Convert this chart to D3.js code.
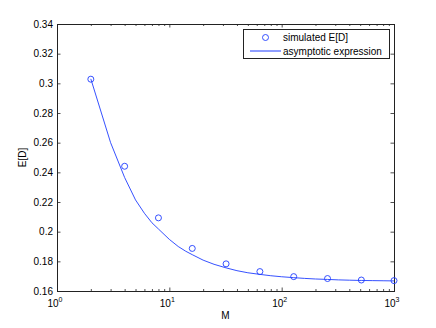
<!DOCTYPE html>
<html>
<head>
<meta charset="utf-8">
<script src="https://cdn.jsdelivr.net/npm/d3@7"></script>
<style>
body { margin: 0; background: #fff; }
text { font-family: "Liberation Sans", Arial, sans-serif; font-size: 10px; fill: #000; }
</style>
</head>
<body>
<div id="chart"></div>
<script>
var w = 436;
var h = 328;

// simulated points
var simM = [2, 4, 8, 16, 32, 64, 128, 256, 512, 1000];
var simED = [0.3028, 0.2441, 0.2093, 0.1887, 0.1783, 0.1731, 0.1697, 0.1684, 0.1674, 0.1670];

// asymptotic expression
var asymM = [2, 3, 4, 5, 6, 7, 8, 10, 12, 14, 16, 20, 25, 32, 40, 50, 64, 80, 100, 128, 160, 200, 256, 320, 400, 512, 640, 800, 1000];
var asymED = [0.303, 0.2600, 0.2365, 0.2214, 0.2124, 0.2060, 0.2018, 0.1948, 0.1900, 0.1868, 0.1845, 0.1808,
    0.1780, 0.1756, 0.1737, 0.1723, 0.1712, 0.1703, 0.1696, 0.1690, 0.1685, 0.1681, 0.1678, 0.1675,
    0.1673, 0.1671, 0.1670, 0.1669, 0.1668];

var yTicks = [0.16, 0.18, 0.2, 0.22, 0.24, 0.26, 0.28, 0.3, 0.32, 0.34];
var xMajor = [1, 10, 100, 1000];
var xExp = ["0", "1", "2", "3"];

// plot box (note: "top" is a reserved window global)
var pL = 57, pR = 394, pT = 24, pB = 291;

var svg = d3.select("#chart")
    .append("svg")
    .attr("width", w)
    .attr("height", h);

var x = d3.scaleLog().domain([1, 1000]).range([pL, pR]);
var y = d3.scaleLinear().domain([0.16, 0.34]).range([pB, pT]);

var xMinor = [];
[1, 10, 100].forEach(function (d) {
    for (var k = 2; k <= 9; k++) xMinor.push(d * k);
});

var fmtY = function (d) { return String(+d.toFixed(2)); };

// left axis with labels, ticks inward
var gl = svg.append("g")
    .attr("transform", "translate(" + pL + ",0)")
    .call(d3.axisLeft(y).tickValues(yTicks).tickSize(-3.5).tickPadding(4).tickFormat(fmtY));
// right axis, ticks only
var gr = svg.append("g")
    .attr("transform", "translate(" + pR + ",0)")
    .call(d3.axisRight(y).tickValues(yTicks).tickSize(-3.5).tickFormat(""));

// bottom and top axes: major and minor ticks
var gb = svg.append("g")
    .attr("transform", "translate(0," + pB + ")")
    .call(d3.axisBottom(x).tickValues(xMajor).tickSize(-3.5).tickFormat(""));
var gbm = svg.append("g")
    .attr("transform", "translate(0," + pB + ")")
    .call(d3.axisBottom(x).tickValues(xMinor).tickSize(-2).tickFormat(""));
var gt = svg.append("g")
    .attr("transform", "translate(0," + pT + ")")
    .call(d3.axisTop(x).tickValues(xMajor).tickSize(-3.5).tickFormat(""));
var gtm = svg.append("g")
    .attr("transform", "translate(0," + pT + ")")
    .call(d3.axisTop(x).tickValues(xMinor).tickSize(-2).tickFormat(""));

[gl, gr, gb, gbm, gt, gtm].forEach(function (g) {
    g.select(".domain").remove();
    g.selectAll("line").attr("stroke", "#222").attr("stroke-width", 0.8);
    g.selectAll("text").attr("font-family", null).attr("font-size", null).attr("fill", "#000");
});

// box
svg.append("rect")
    .attr("x", pL + 0.5)
    .attr("y", pT + 0.5)
    .attr("width", pR - pL)
    .attr("height", pB - pT)
    .attr("fill", "none")
    .attr("stroke", "#222")
    .attr("stroke-width", 1);

// x tick labels 10^n
var xl = svg.selectAll(".xlab")
    .data(xMajor)
    .enter()
    .append("text")
    .attr("class", "xlab")
    .attr("x", function (d) { return x(d) - 2; })
    .attr("y", pB + 16)
    .attr("text-anchor", "middle");
xl.append("tspan").text("10");
xl.append("tspan")
    .attr("dy", -5)
    .style("font-size", "7px")
    .text(function (d, i) { return xExp[i]; });

// axis titles
svg.append("text")
    .attr("x", (pL + pR) / 2)
    .attr("y", pB + 28)
    .attr("text-anchor", "middle")
    .text("M");
svg.append("text")
    .attr("transform", "translate(26," + (pT + pB) / 2 + ") rotate(-90)")
    .attr("text-anchor", "middle")
    .text("E[D]");

var blue = "#1f3dff";

// asymptotic line
var line = d3.line()
    .x(function (d, i) { return x(asymM[i]); })
    .y(function (d) { return y(d); });
svg.append("path")
    .attr("d", line(asymED))
    .attr("fill", "none")
    .attr("stroke", blue)
    .attr("stroke-width", 0.9);

// simulated circles
svg.selectAll(".pt")
    .data(simED)
    .enter()
    .append("circle")
    .attr("class", "pt")
    .attr("cx", function (d, i) { return x(simM[i]); })
    .attr("cy", function (d) { return y(d); })
    .attr("r", 3)
    .attr("fill", "none")
    .attr("stroke", blue)
    .attr("stroke-width", 0.9);

// legend
var lg = svg.append("g");
lg.append("rect")
    .attr("x", 243.5)
    .attr("y", 29.5)
    .attr("width", 146)
    .attr("height", 29)
    .attr("fill", "#fff")
    .attr("stroke", "#222")
    .attr("stroke-width", 1);
lg.append("circle")
    .attr("cx", 265.5)
    .attr("cy", 37.5)
    .attr("r", 3)
    .attr("fill", "none")
    .attr("stroke", blue)
    .attr("stroke-width", 0.9);
lg.append("text")
    .attr("x", 283)
    .attr("y", 41)
    .text("simulated E[D]");
lg.append("line")
    .attr("x1", 250)
    .attr("x2", 281)
    .attr("y1", 51)
    .attr("y2", 51)
    .attr("stroke", blue)
    .attr("stroke-width", 1);
lg.append("text")
    .attr("x", 283)
    .attr("y", 55)
    .text("asymptotic expression");
</script>
</body>
</html>
